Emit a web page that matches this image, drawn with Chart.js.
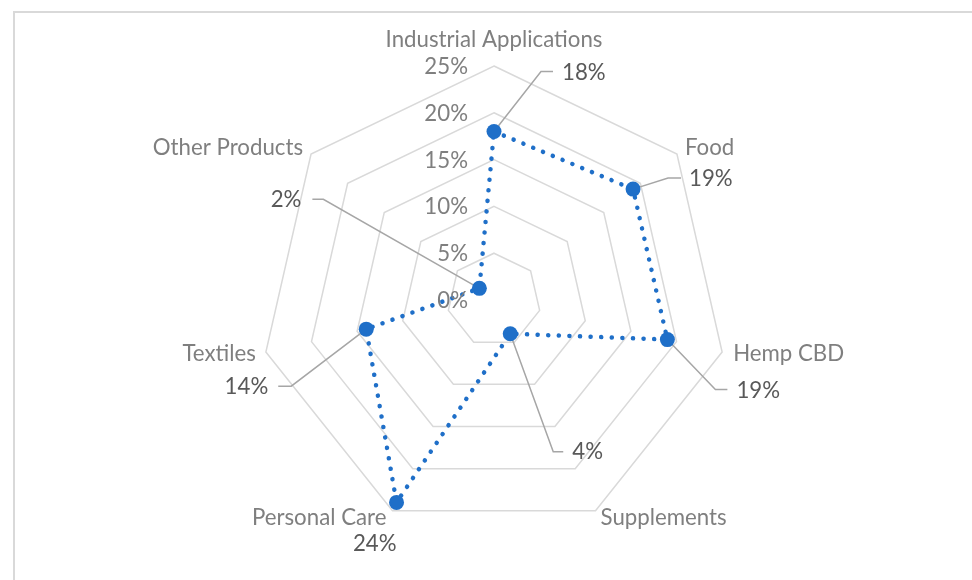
<!DOCTYPE html>
<html>
<head>
<meta charset="utf-8">
<script src="https://cdn.jsdelivr.net/npm/chart.js@4.4.1/dist/chart.umd.min.js"></script>
<style>
  html, body { margin: 0; padding: 0; background: #ffffff; overflow: hidden; }
  #wrap { position: relative; width: 972px; height: 580px; }
  #frame { position: absolute; left: 13px; top: 11px; width: 1000px; height: 620px; border: 2px solid #d9d9d9; box-sizing: border-box; }
  canvas { position: absolute; left: 0; top: 0; }
</style>
</head>
<body>
<div id="wrap">
  <div id="frame"></div>
  <canvas id="c" width="972" height="580"></canvas>
</div>
<script>
// ---- data ----
const categories = ['Industrial Applications', 'Food', 'Hemp CBD', 'Supplements', 'Personal Care', 'Textiles', 'Other Products'];
const shares = [18, 19, 19, 4, 24, 14, 2];
const tickValues = [0, 5, 10, 15, 20, 25];

// ---- layout / style (offsets relative to points / vertices) ----
const catLabelOffsets = [
  { dx: 0, dy: -19, align: 'center' },
  { dx: 8, dy: 1, align: 'left' },
  { dx: 11, dy: 9, align: 'left' },
  { dx: 5, dy: 14, align: 'left' },
  { dx: -6, dy: 14, align: 'right' },
  { dx: -10, dy: 9, align: 'right' },
  { dx: -8, dy: 1, align: 'right' }
];
// leader: elbow (ex,ey), horizontal end hx; text at (tx,ty) with align
const dataLabelOffsets = [
  { ex: 47, ey: -60, hx: 59, tx: 68, ty: -52, align: 'left' },
  { ex: 35, ey: -11, hx: 48, tx: 56, ty: -3, align: 'left' },
  { ex: 48, ey: 50, hx: 60, tx: 69, ty: 58, align: 'left' },
  { ex: 43, ey: 118, hx: 53, tx: 62, ty: 125, align: 'left' },
  { ex: null, tx: 0, ty: 49, align: 'right' },
  { ex: -75, ey: 57, hx: -88, tx: -98, ty: 65, align: 'right' },
  { ex: -156, ey: -89, hx: -167, tx: -178, ty: -81, align: 'right' }
];

const FAMILY = 'Lato, "Open Sans", "DejaVu Sans", sans-serif';
function fitSize(ctx, text, target) {
  ctx.save();
  ctx.font = '100px ' + FAMILY;
  const w = ctx.measureText(text).width;
  ctx.restore();
  return 100 * target / w;
}

const blue = '#1f6fc8';

const labelPlugin = {
  id: 'customLabels',
  beforeDatasetsDraw(chart) {
    const ctx = chart.ctx;
    const meta = chart.getDatasetMeta(0);
    ctx.save();
    ctx.strokeStyle = '#a6a6a6';
    ctx.lineWidth = 1.5;
    meta.data.forEach((pt, i) => {
      const o = dataLabelOffsets[i];
      if (o.ex === null) return;
      ctx.beginPath();
      ctx.moveTo(pt.x, pt.y);
      ctx.lineTo(pt.x + o.ex, pt.y + o.ey);
      ctx.lineTo(pt.x + o.hx, pt.y + o.ey);
      ctx.stroke();
    });
    ctx.restore();
  },
  afterDraw(chart) {
    const ctx = chart.ctx;
    const r = chart.scales.r;
    const meta = chart.getDatasetMeta(0);
    const size = fitSize(ctx, 'Industrial Applications', 217);
    ctx.save();
    ctx.font = size.toFixed(2) + 'px ' + FAMILY;
    ctx.textBaseline = 'alphabetic';
    // tick labels
    ctx.fillStyle = '#7f7f7f';
    ctx.textAlign = 'right';
    tickValues.forEach(v => {
      const y = r.yCenter - r.getDistanceFromCenterForValue(v);
      ctx.fillText(v + '%', r.xCenter - 26, y + 8);
    });
    // category labels
    categories.forEach((name, i) => {
      const p = r.getPointPosition(i, r.drawingArea);
      const o = catLabelOffsets[i];
      ctx.textAlign = o.align;
      ctx.fillText(name, p.x + o.dx, p.y + o.dy);
    });
    // data labels
    ctx.fillStyle = '#595959';
    meta.data.forEach((pt, i) => {
      const o = dataLabelOffsets[i];
      ctx.textAlign = o.align;
      ctx.fillText(shares[i] + '%', pt.x + o.tx, pt.y + o.ty);
    });
    ctx.restore();
  }
};

new Chart(document.getElementById('c'), {
  type: 'radar',
  data: {
    labels: categories,
    datasets: [{
      data: shares,
      borderColor: blue,
      backgroundColor: 'rgba(0,0,0,0)',
      fill: false,
      borderWidth: 4.5,
      borderDash: [0.1, 10.5],
      borderCapStyle: 'round',
      tension: 0,
      pointRadius: 7.5,
      pointHoverRadius: 7.5,
      pointBackgroundColor: blue,
      pointBorderColor: blue,
      pointBorderWidth: 0
    }]
  },
  options: {
    responsive: false,
    animation: false,
    events: [],
    layout: { padding: { top: 66, bottom: 46, left: 100, right: 84 } },
    plugins: { legend: { display: false }, tooltip: { enabled: false } },
    scales: {
      r: {
        min: 0,
        max: 25,
        ticks: { stepSize: 5, display: false },
        grid: { color: '#d9d9d9', lineWidth: 1.5, circular: false },
        angleLines: { display: false },
        pointLabels: { display: false }
      }
    }
  },
  plugins: [labelPlugin]
});
</script>
</body>
</html>
